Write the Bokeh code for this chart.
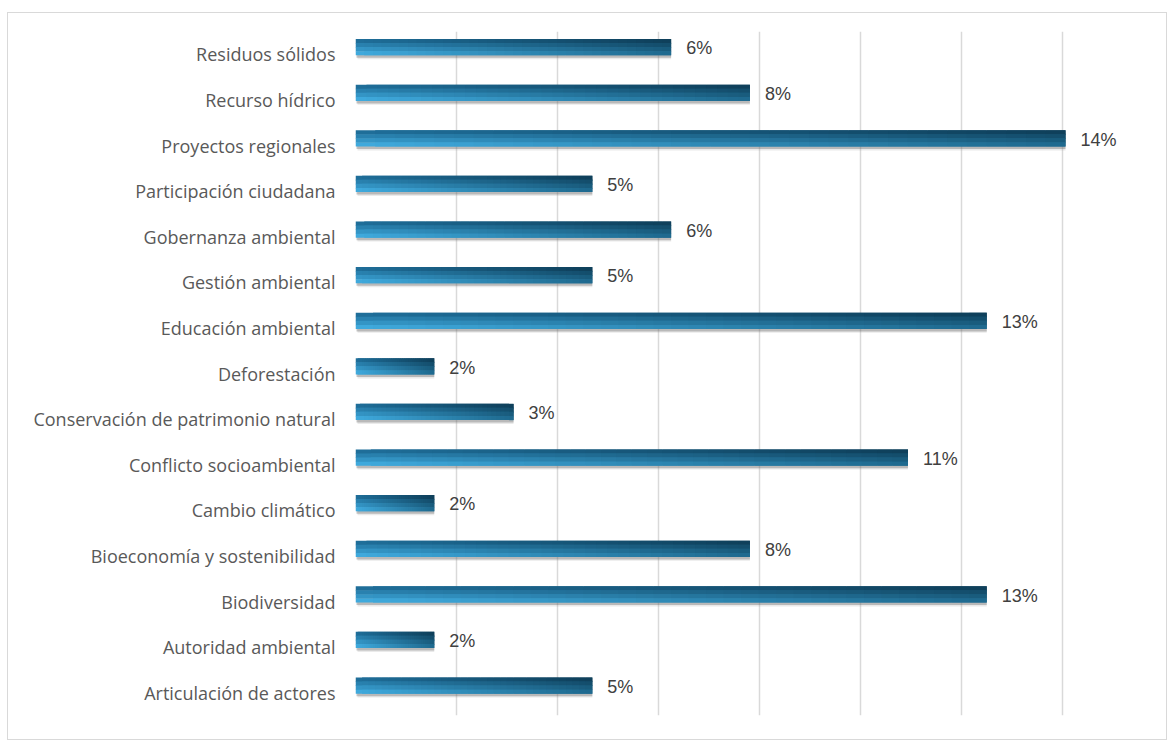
import numpy as np
from bokeh.plotting import figure
from bokeh.models import ColumnDataSource, FactorRange, SingleIntervalTicker
from bokeh.transform import dodge
from bokeh.core.properties import value
from bokeh.embed import file_html
from bokeh.resources import INLINE

# categories listed bottom -> top
categories = [
    "Articulación de actores", "Autoridad ambiental", "Biodiversidad",
    "Bioeconomía y sostenibilidad", "Cambio climático", "Conflicto socioambiental",
    "Conservación de patrimonio natural", "Deforestación", "Educación ambiental",
    "Gestión ambiental", "Gobernanza ambiental", "Participación ciudadana",
    "Proyectos regionales", "Recurso hídrico", "Residuos sólidos",
]
shares = [4.69, 1.56, 12.5, 7.81, 1.56, 10.94, 3.13, 1.56, 12.5, 4.69, 6.25, 4.69, 14.06, 7.81, 6.25]
labels = ["5%", "2%", "13%", "8%", "2%", "11%", "3%", "2%", "13%", "5%", "6%", "5%", "14%", "8%", "6%"]

p = figure(width=1160, height=728, y_range=FactorRange(factors=categories, range_padding=0),
           x_range=(0, 16), output_backend="svg", toolbar_location=None,
           min_border_left=347, min_border_right=5, min_border_top=18, min_border_bottom=26)
p.styles = {"border": "1.5px solid #d9d9d9", "margin-left": "7px", "margin-top": "12px"}
p.outline_line_color = None
p.background_fill_color = "white"

p.xaxis.visible = False
p.xaxis.ticker = SingleIntervalTicker(interval=2)
p.xgrid.grid_line_color = "#d9d9d9"
p.xgrid.grid_line_width = 1.5
p.ygrid.grid_line_color = None

yax = p.yaxis[0]
yax.axis_line_color = None
yax.major_tick_line_color = None
yax.minor_tick_line_color = None
yax.major_label_text_font = "Open Sans"
yax.major_label_text_font_size = "18px"
yax.major_label_text_color = "#595959"
yax.major_label_standoff = 14

bh = 0.35
lift = 0.153  # bars sit slightly above the category centre
src = ColumnDataSource(dict(cat=categories, v=shares, lab=labels))
# soft shadow
p.hbar(y=dodge("cat", lift - 0.085, range=p.y_range), left=0.04, right="v", height=bh,
       source=src, fill_color="#8a8a8a", fill_alpha=0.18, line_color=None)
p.hbar(y=dodge("cat", lift - 0.055, range=p.y_range), left=0.02, right="v", height=bh,
       source=src, fill_color="#5e5e5e", fill_alpha=0.35, line_color=None)

# diagonal gradient bar built from slices of each value
N = 36
B = 4
tl = np.array([0x1f, 0x6e, 0x99]); bl = np.array([0x3f, 0xa9, 0xdc])
tr = np.array([0x0f, 0x40, 0x5b]); br = np.array([0x1f, 0x6a, 0x8f])
for b in range(B):
    s = b / (B - 1)
    left_c = tl * (1 - s) + bl * s
    right_c = tr * (1 - s) + br * s
    ys, ls, rs, cs = [], [], [], []
    for c, v in zip(categories, shares):
        for k in range(N):
            t = k / (N - 1)
            col = (left_c * (1 - t) + right_c * t).astype(int)
            ys.append(c)
            ls.append(v * k / N)
            rs.append(v * min(k + 2, N) / N)
            cs.append("#%02x%02x%02x" % tuple(col))
    off = lift + bh / 2 - (b + 0.5) * bh / B
    gsrc = ColumnDataSource(dict(cat=ys, l=ls, r=rs, col=cs))
    p.hbar(y=dodge("cat", off, range=p.y_range), left="l", right="r",
           height=bh / B + (0.012 if b < B - 1 else 0), source=gsrc,
           fill_color="col", line_color=None)

p.text(x="v", y=dodge("cat", lift, range=p.y_range), text="lab", source=src,
       x_offset=15, y_offset=1,
       text_font=value("Liberation Sans"), text_font_size="18px",
       text_color="#404040", text_baseline="middle", text_align="left")

open("out.html", "w").write(file_html(p, INLINE))
